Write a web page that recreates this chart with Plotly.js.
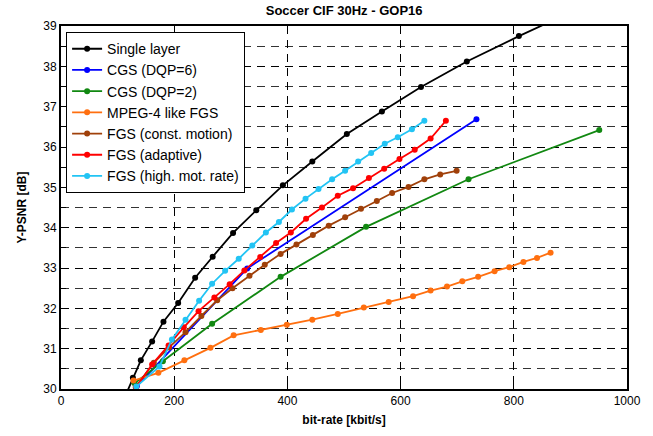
<!DOCTYPE html>
<html>
<head>
<meta charset="utf-8">
<script src="https://cdn.plot.ly/plotly-3.0.1.min.js"></script>
<style>html,body{margin:0;padding:0;background:#fff;}#chart{width:653px;height:436px;}</style>
</head>
<body>
<div id="chart"></div>
<script>
// Series data (bit-rate kbit/s, Y-PSNR dB)
const singleX = [114, 127, 141, 161, 181, 207, 237, 268, 304, 345, 392, 444, 505, 567, 636, 717, 809, 905];
const singleY = [29.84, 30.28, 30.71, 31.18, 31.67, 32.13, 32.76, 33.28, 33.87, 34.43, 35.05, 35.64, 36.32, 36.88, 37.49, 38.12, 38.75, 39.37];

const cgs6X = [134, 329, 734];
const cgs6Y = [30.07, 32.99, 36.69];

const cgs2X = [130, 180, 267, 388, 539, 720, 951];
const cgs2Y = [30.14, 30.69, 31.62, 32.78, 34.02, 35.20, 36.42];

const mpegX = [128, 172, 218, 264, 305, 353, 399, 444, 489, 535, 579, 622, 653, 682, 709, 737, 766, 792, 817, 841, 865];
const mpegY = [30.21, 30.40, 30.71, 31.02, 31.33, 31.46, 31.59, 31.72, 31.86, 32.02, 32.16, 32.30, 32.44, 32.54, 32.67, 32.78, 32.92, 33.02, 33.15, 33.25, 33.38];

const constX = [132, 164, 191, 220, 248, 276, 303, 333, 360, 388, 416, 445, 473, 502, 530, 558, 585, 614, 642, 670, 699];
const constY = [30.05, 30.65, 31.03, 31.41, 31.81, 32.20, 32.50, 32.81, 33.08, 33.35, 33.58, 33.82, 34.05, 34.26, 34.47, 34.66, 34.86, 35.01, 35.20, 35.32, 35.41];

const adaptX = [133, 161, 190, 217, 243, 271, 298, 324, 352, 380, 406, 433, 461, 489, 516, 544, 571, 598, 625, 653, 680];
const adaptY = [30.05, 30.61, 31.08, 31.53, 31.93, 32.27, 32.60, 32.94, 33.27, 33.62, 33.88, 34.22, 34.50, 34.79, 34.98, 35.23, 35.46, 35.70, 35.93, 36.21, 36.65];

const highX = [133, 174, 196, 220, 244, 267, 290, 314, 338, 362, 385, 408, 432, 455, 479, 502, 525, 548, 572, 595, 620, 642];
const highY = [30.06, 30.56, 31.23, 31.72, 32.19, 32.61, 32.93, 33.23, 33.56, 33.88, 34.14, 34.45, 34.72, 34.96, 35.20, 35.41, 35.64, 35.85, 36.08, 36.24, 36.44, 36.65];

const seriesNames = ["Single layer", "CGS (DQP=6)", "CGS (DQP=2)", "MPEG-4 like FGS", "FGS (const. motion)", "FGS (adaptive)", "FGS (high. mot. rate)"];
const seriesColors = ["#000000", "#0000ff", "#118811", "#ff6f0f", "#a0400a", "#ff0000", "#22c4f4"];
const xs = [singleX, cgs6X, cgs2X, mpegX, constX, adaptX, highX];
const ys = [singleY, cgs6Y, cgs2Y, mpegY, constY, adaptY, highY];

const traces = seriesNames.map((n, i) => ({
  x: xs[i], y: ys[i], name: n, type: 'scatter', mode: 'lines+markers',
  line: {color: seriesColors[i], width: 1.8},
  marker: {color: seriesColors[i], size: 6},
  legendgroup: 'g' + i
}));

const layout = {
  width: 653, height: 436,
  margin: {l: 61, r: 26, t: 26, b: 47},
  paper_bgcolor: '#ffffff', plot_bgcolor: '#ffffff',
  font: {family: 'Liberation Sans, Arial, sans-serif', size: 12, color: '#000'},
  title: {text: '<b>Soccer CIF 30Hz - GOP16</b>', x: 0.527, xanchor: 'center', y: 0.975, yanchor: 'middle', font: {size: 13}},
  showlegend: true,
  legend: {x: 0.009, y: 0.983, xanchor: 'left', yanchor: 'top', bgcolor: '#ffffff', bordercolor: '#000', borderwidth: 1,
           font: {size: 14}, traceorder: 'grouped', tracegroupgap: 0, itemwidth: 30},
  xaxis: {
    range: [0, 1000], dtick: 200, tick0: 0,
    showline: true, linecolor: '#000', linewidth: 2, mirror: 'ticks',
    ticks: 'inside', ticklen: 6, tickcolor: '#000', tickwidth: 1,
    showgrid: true, gridcolor: '#000', gridwidth: 1, griddash: '8px,6px',
    zeroline: false,
    title: {text: '<b>bit-rate [kbit/s]</b>', font: {size: 12}, standoff: 8},
    tickfont: {size: 12}
  },
  yaxis: {
    range: [30, 39], dtick: 1, tick0: 30,
    showline: true, linecolor: '#000', linewidth: 2, mirror: 'ticks',
    ticks: 'inside', ticklen: 5, tickcolor: '#000', tickwidth: 1,
    showgrid: true, gridcolor: '#000', gridwidth: 1, griddash: '8px,6px',
    minor: {dtick: 0.5, showgrid: true, gridcolor: '#333', gridwidth: 1, griddash: '8px,6px', ticks: 'inside', ticklen: 5, tickcolor: '#000'},
    zeroline: false,
    title: {text: '<b>Y-PSNR [dB]</b>', font: {size: 12}, standoff: 14},
    tickfont: {size: 12}
  }
};

Plotly.newPlot('chart', traces, layout, {displayModeBar: false, staticPlot: true});
</script>
</body>
</html>
